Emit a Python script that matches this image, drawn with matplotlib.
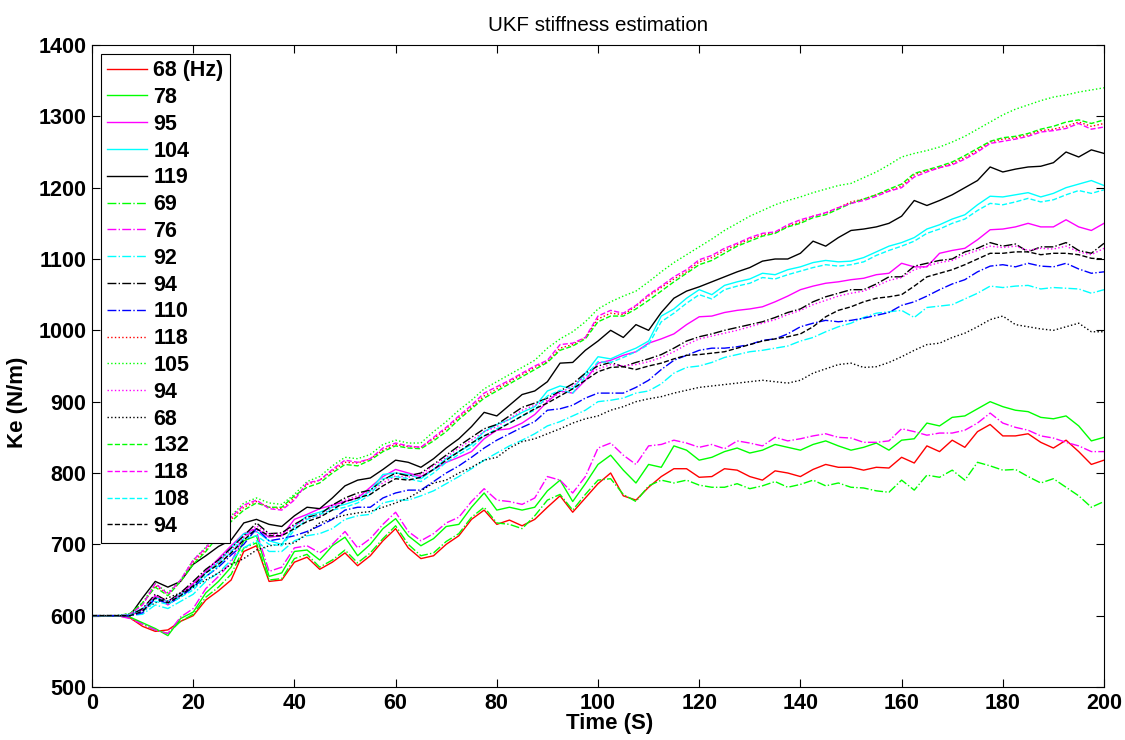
import numpy as np
import matplotlib
matplotlib.use("Agg")
import matplotlib.pyplot as plt

plt.rcParams['font.family'] = ['Liberation Sans', 'DejaVu Sans']

time_s = np.linspace(0, 200, 81)

red_solid_68 = [600, 600, 600, 597, 585, 578, 580, 592, 600, 622,
                635, 650, 690, 698, 648, 650, 675, 682, 665, 675,
                688, 670, 684, 705, 722, 695, 680, 684, 700, 712,
                735, 748, 728, 734, 726, 735, 752, 768, 745, 765,
                785, 800, 768, 762, 780, 795, 806, 806, 794, 795,
                806, 804, 795, 790, 803, 800, 795, 805, 812, 808,
                808, 804, 808, 807, 822, 814, 838, 830, 846, 836,
                858, 868, 852, 852, 855, 843, 835, 846, 830, 812,
                818]
green_solid_78 = [600, 600, 600, 598, 590, 582, 572, 596, 605, 632,
                  648, 668, 705, 712, 655, 660, 690, 692, 678, 698,
                  710, 684, 700, 722, 736, 712, 698, 708, 725, 728,
                  752, 772, 748, 752, 748, 752, 775, 790, 760, 785,
                  812, 825, 804, 786, 812, 808, 838, 832, 818, 822,
                  830, 835, 828, 832, 840, 836, 832, 840, 845, 838,
                  832, 836, 842, 832, 846, 848, 870, 866, 878, 880,
                  890, 900, 893, 888, 886, 878, 876, 880, 866, 845,
                  850]
magenta_solid_95 = [600, 600, 600, 600, 608, 628, 615, 630, 645, 662,
                    680, 698, 715, 722, 710, 712, 735, 742, 750, 755,
                    760, 765, 780, 795, 805, 800, 795, 805, 815, 822,
                    830, 848, 860, 862, 870, 882, 900, 915, 912, 930,
                    954, 958, 965, 970, 982, 988, 995, 1008, 1019, 1020,
                    1025, 1028, 1030, 1033, 1040, 1048, 1057, 1062, 1066, 1068,
                    1071, 1073, 1078, 1080, 1094, 1089, 1089, 1108, 1112, 1115,
                    1127, 1141, 1142, 1145, 1150, 1145, 1145, 1155, 1145, 1140,
                    1150]
cyan_solid_104 = [600, 600, 600, 602, 610, 625, 620, 630, 640, 660,
                  675, 695, 715, 718, 705, 700, 725, 740, 745, 752,
                  756, 762, 775, 798, 800, 798, 792, 805, 820, 830,
                  840, 858, 868, 875, 885, 893, 915, 922, 918, 940,
                  963, 960, 968, 975, 985, 1020, 1030, 1045, 1057, 1050,
                  1063, 1068, 1072, 1080, 1078, 1085, 1089, 1095, 1098, 1096,
                  1097, 1102, 1110, 1118, 1123, 1130, 1142, 1148, 1156, 1162,
                  1176, 1188, 1187, 1190, 1193, 1187, 1192, 1200, 1205, 1210,
                  1203]
black_solid_119 = [600, 600, 600, 600, 625, 648, 640, 648, 672, 684,
                   697, 706, 730, 735, 728, 725, 740, 752, 750, 765,
                   782, 790, 793, 805, 818, 815, 808, 820, 835, 848,
                   865, 885, 880, 895, 910, 915, 928, 954, 955, 972,
                   985, 1000, 990, 1008, 1000, 1025, 1045, 1055, 1061, 1068,
                   1075, 1082, 1088, 1097, 1100, 1100, 1108, 1125, 1118, 1130,
                   1140, 1142, 1145, 1150, 1160, 1182, 1175, 1182, 1190, 1200,
                   1210, 1229, 1222, 1226, 1229, 1230, 1235, 1250, 1243, 1253,
                   1248]
green_dashdot_69 = [600, 600, 600, 598, 588, 580, 575, 592, 602, 626,
                    640, 658, 695, 702, 650, 652, 680, 686, 668, 678,
                    692, 674, 688, 708, 726, 700, 684, 688, 704, 715,
                    738, 752, 730, 728, 722, 740, 762, 770, 748, 770,
                    790, 792, 770, 760, 782, 790, 786, 790, 783, 780,
                    780, 785, 778, 782, 788, 780, 784, 790, 782, 786,
                    780, 779, 775, 773, 790, 776, 797, 794, 804, 790,
                    815, 810, 804, 805, 795, 786, 792, 780, 768, 752,
                    760]
magenta_dashdot_76 = [600, 600, 600, 596, 588, 580, 575, 598, 610, 638,
                      655, 675, 712, 718, 662, 668, 695, 698, 688, 700,
                      718, 695, 708, 728, 745, 718, 705, 715, 730, 738,
                      760, 778, 762, 760, 756, 765, 795, 790, 772, 795,
                      835, 842, 825, 812, 838, 840, 846, 842, 836, 840,
                      834, 845, 842, 838, 850, 845, 848, 852, 855, 850,
                      849, 843, 843, 845, 862, 858, 853, 856, 856, 860,
                      870, 884, 870, 864, 860, 852, 849, 843, 838, 830,
                      830]
cyan_dashdot_92 = [600, 600, 600, 600, 602, 615, 610, 620, 630, 648,
                   660, 678, 695, 705, 690, 690, 705, 712, 715, 722,
                   735, 740, 742, 758, 762, 762, 768, 775, 785, 795,
                   806, 818, 828, 838, 846, 855, 866, 872, 880, 888,
                   900, 902, 905, 912, 915, 925, 940, 948, 950, 955,
                   962, 966, 970, 972, 975, 978, 985, 990, 998, 1005,
                   1010, 1018, 1024, 1026, 1028, 1018, 1032, 1034, 1036, 1044,
                   1052, 1062, 1060, 1062, 1063, 1058, 1060, 1059, 1058, 1052,
                   1057]
black_dashdot_94 = [600, 600, 600, 600, 610, 630, 620, 632, 648, 665,
                    678, 695, 712, 730, 715, 716, 728, 738, 742, 755,
                    765, 772, 776, 790, 800, 796, 800, 812, 825, 838,
                    850, 862, 868, 880, 892, 898, 905, 915, 925, 940,
                    950, 955, 949, 955, 960, 966, 975, 985, 991, 995,
                    1000, 1004, 1008, 1012, 1018, 1025, 1030, 1040, 1047, 1052,
                    1057, 1057, 1065, 1075, 1075, 1090, 1094, 1098, 1100, 1110,
                    1115, 1123, 1118, 1121, 1110, 1117, 1117, 1123, 1112, 1108,
                    1122]
blue_dashdot_110 = [600, 600, 600, 600, 604, 624, 616, 626, 640, 655,
                    668, 685, 700, 722, 705, 708, 712, 718, 726, 735,
                    748, 752, 752, 765, 772, 776, 776, 788, 800, 810,
                    822, 835, 846, 855, 864, 872, 888, 890, 895, 905,
                    912, 912, 912, 920, 930, 945, 958, 965, 972, 975,
                    975, 977, 980, 986, 988, 995, 1005, 1010, 1014, 1012,
                    1014, 1017, 1021, 1025, 1035, 1040, 1048, 1057, 1065, 1071,
                    1082, 1090, 1092, 1089, 1094, 1090, 1089, 1094, 1086, 1080,
                    1082]
red_dotted_118 = [600, 600, 600, 602, 616, 642, 630, 648, 675, 692,
                  715, 735, 752, 760, 752, 750, 765, 784, 790, 803,
                  815, 814, 820, 832, 840, 837, 836, 848, 862, 878,
                  892, 908, 918, 928, 938, 948, 956, 975, 980, 990,
                  1016, 1024, 1022, 1034, 1048, 1060, 1072, 1082, 1096, 1102,
                  1112, 1120, 1128, 1134, 1137, 1146, 1152, 1160, 1164, 1172,
                  1180, 1184, 1190, 1196, 1202, 1218, 1224, 1228, 1234, 1242,
                  1252, 1264, 1268, 1270, 1274, 1280, 1282, 1286, 1292, 1286,
                  1290]
green_dotted_105 = [600, 600, 600, 603, 618, 645, 632, 650, 678, 696,
                    720, 740, 758, 765, 758, 756, 770, 788, 795, 810,
                    822, 820, 826, 840, 846, 842, 842, 858, 872, 888,
                    902, 918, 928, 938, 948, 958, 975, 988, 998, 1012,
                    1030, 1040, 1048, 1055, 1068, 1082, 1095, 1106, 1117, 1128,
                    1140, 1150, 1160, 1168, 1176, 1182, 1187, 1193, 1198, 1203,
                    1206, 1214, 1222, 1232, 1243, 1248, 1252, 1257, 1264, 1272,
                    1282, 1292, 1302, 1310, 1316, 1322, 1327, 1330, 1334, 1337,
                    1340]
magenta_dotted_94 = [600, 600, 600, 600, 608, 628, 620, 630, 645, 662,
                     676, 692, 710, 726, 714, 714, 726, 736, 740, 752,
                     762, 768, 774, 786, 796, 794, 798, 810, 822, 835,
                     846, 858, 865, 876, 888, 895, 902, 912, 922, 936,
                     946, 952, 950, 952, 956, 962, 970, 980, 988, 992,
                     996, 1000, 1005, 1010, 1015, 1022, 1028, 1036, 1042, 1048,
                     1052, 1055, 1062, 1070, 1074, 1085, 1090, 1095, 1098, 1106,
                     1112, 1118, 1116, 1118, 1112, 1115, 1114, 1118, 1110, 1106,
                     1115]
black_dotted_68 = [600, 600, 600, 602, 608, 618, 625, 632, 640, 650,
                   660, 672, 680, 692, 698, 700, 702, 715, 730, 736,
                   741, 744, 746, 752, 758, 765, 775, 786, 790, 800,
                   808, 818, 822, 835, 844, 848, 855, 862, 870, 876,
                   880, 888, 893, 900, 904, 907, 912, 916, 920, 922,
                   924, 926, 928, 930, 928, 926, 930, 940, 946, 952,
                   954, 948, 949, 955, 963, 972, 980, 982, 990, 996,
                   1005, 1015, 1020, 1008, 1005, 1002, 1000, 1005, 1010, 998,
                   998]
green_dashed_132 = [600, 600, 600, 603, 618, 640, 628, 648, 672, 690,
                    712, 732, 748, 758, 752, 752, 768, 780, 786, 800,
                    812, 810, 818, 830, 838, 835, 834, 845, 858, 875,
                    890, 905, 915, 925, 935, 945, 955, 972, 978, 988,
                    1012, 1020, 1020, 1030, 1042, 1055, 1068, 1080, 1092, 1098,
                    1108, 1118, 1125, 1132, 1136, 1145, 1150, 1158, 1162, 1170,
                    1178, 1184, 1190, 1198, 1205, 1220, 1225, 1230, 1236, 1245,
                    1255, 1265, 1270, 1272, 1276, 1282, 1286, 1292, 1295, 1290,
                    1295]
magenta_dashed_118 = [600, 600, 600, 602, 615, 645, 630, 650, 678, 695,
                      718, 738, 755, 762, 750, 748, 762, 786, 790, 805,
                      818, 815, 820, 835, 842, 838, 836, 850, 864, 880,
                      895, 912, 921, 930, 940, 950, 958, 980, 982, 990,
                      1020, 1028, 1024, 1035, 1050, 1062, 1075, 1085, 1099, 1105,
                      1115, 1122, 1130, 1136, 1138, 1148, 1155, 1160, 1165, 1172,
                      1178, 1182, 1188, 1195, 1200, 1215, 1222, 1228, 1232, 1240,
                      1250, 1262, 1265, 1268, 1272, 1278, 1280, 1283, 1290, 1282,
                      1285]
cyan_dashed_108 = [600, 600, 600, 601, 606, 620, 616, 626, 636, 655,
                   670, 690, 708, 712, 700, 698, 720, 735, 742, 748,
                   752, 758, 770, 792, 795, 792, 788, 800, 815, 826,
                   836, 852, 862, 870, 880, 888, 908, 916, 912, 935,
                   956, 955, 962, 970, 980, 1012, 1024, 1038, 1050, 1044,
                   1057, 1062, 1066, 1074, 1072, 1078, 1083, 1088, 1092, 1090,
                   1092, 1096, 1105, 1112, 1118, 1125, 1136, 1142, 1150, 1156,
                   1168, 1178, 1176, 1180, 1185, 1180, 1183, 1190, 1196, 1192,
                   1197]
black_dashed_94 = [600, 600, 600, 600, 606, 625, 618, 628, 642, 660,
                   672, 688, 706, 722, 712, 712, 722, 732, 738, 748,
                   760, 765, 770, 782, 792, 790, 794, 805, 818, 830,
                   842, 852, 860, 870, 880, 890, 898, 908, 918, 930,
                   942, 948, 949, 945, 950, 954, 960, 965, 966, 968,
                   970, 975, 980, 985, 988, 991, 995, 1005, 1019, 1028,
                   1033, 1040, 1045, 1047, 1050, 1062, 1075, 1080, 1085, 1092,
                   1100, 1108, 1108, 1110, 1110, 1106, 1108, 1108, 1106, 1101,
                   1100]

legend_labels = ['68 (Hz)', '78', '95', '104', '119', '69', '76', '92', '94',
                 '110', '118', '105', '94', '68', '132', '118', '108', '94']

series = [red_solid_68, green_solid_78, magenta_solid_95, cyan_solid_104, black_solid_119,
          green_dashdot_69, magenta_dashdot_76, cyan_dashdot_92, black_dashdot_94, blue_dashdot_110,
          red_dotted_118, green_dotted_105, magenta_dotted_94, black_dotted_68,
          green_dashed_132, magenta_dashed_118, cyan_dashed_108, black_dashed_94]
colors = ['#ff0000', '#00ff00', '#ff00ff', '#00ffff', '#000000',
          '#00ff00', '#ff00ff', '#00ffff', '#000000', '#0000ff',
          '#ff0000', '#00ff00', '#ff00ff', '#000000',
          '#00ff00', '#ff00ff', '#00ffff', '#000000']
styles = ['-'] * 5 + ['-.'] * 5 + [':'] * 4 + ['--'] * 4

fig = plt.figure(figsize=(11.25, 7.40), dpi=100)
ax = fig.add_axes([92 / 1125, 1 - 687 / 740, (1104 - 92) / 1125, (687 - 45) / 740])

for vals, c, ls, lab in zip(series, colors, styles, legend_labels):
    ax.plot(time_s, vals, color=c, linestyle=ls, linewidth=1.0, label=lab)

ax.set_xlim(0, 200)
ax.set_ylim(500, 1400)
ax.set_xticks(np.arange(0, 201, 20))
ax.set_yticks(np.arange(500, 1401, 100))
ax.tick_params(direction='in', top=True, right=True, length=6, width=0.8,
               labelsize=15.5, pad=4)
for lbl in ax.get_xticklabels() + ax.get_yticklabels():
    lbl.set_fontweight('bold')
for sp in ax.spines.values():
    sp.set_linewidth(0.8)

ax.set_title('UKF stiffness estimation', fontsize=14.8, pad=10)
ax.set_xlabel('Time (S)', fontsize=16, fontweight='bold')
ax.xaxis.set_label_coords(0.511, -0.040)
ax.set_ylabel('Ke (N/m)', fontsize=16, fontweight='bold')
ax.yaxis.set_label_coords(-0.063, 0.444)

leg = ax.legend(loc='upper left', prop={'weight': 'bold', 'size': 15.5},
                handlelength=1.85, handletextpad=0.3, labelspacing=0.27,
                borderaxespad=0.4, borderpad=0.3, fancybox=False, framealpha=1,
                edgecolor='black')
leg.get_frame().set_linewidth(0.8)

fig.savefig('out.png', dpi=100)
